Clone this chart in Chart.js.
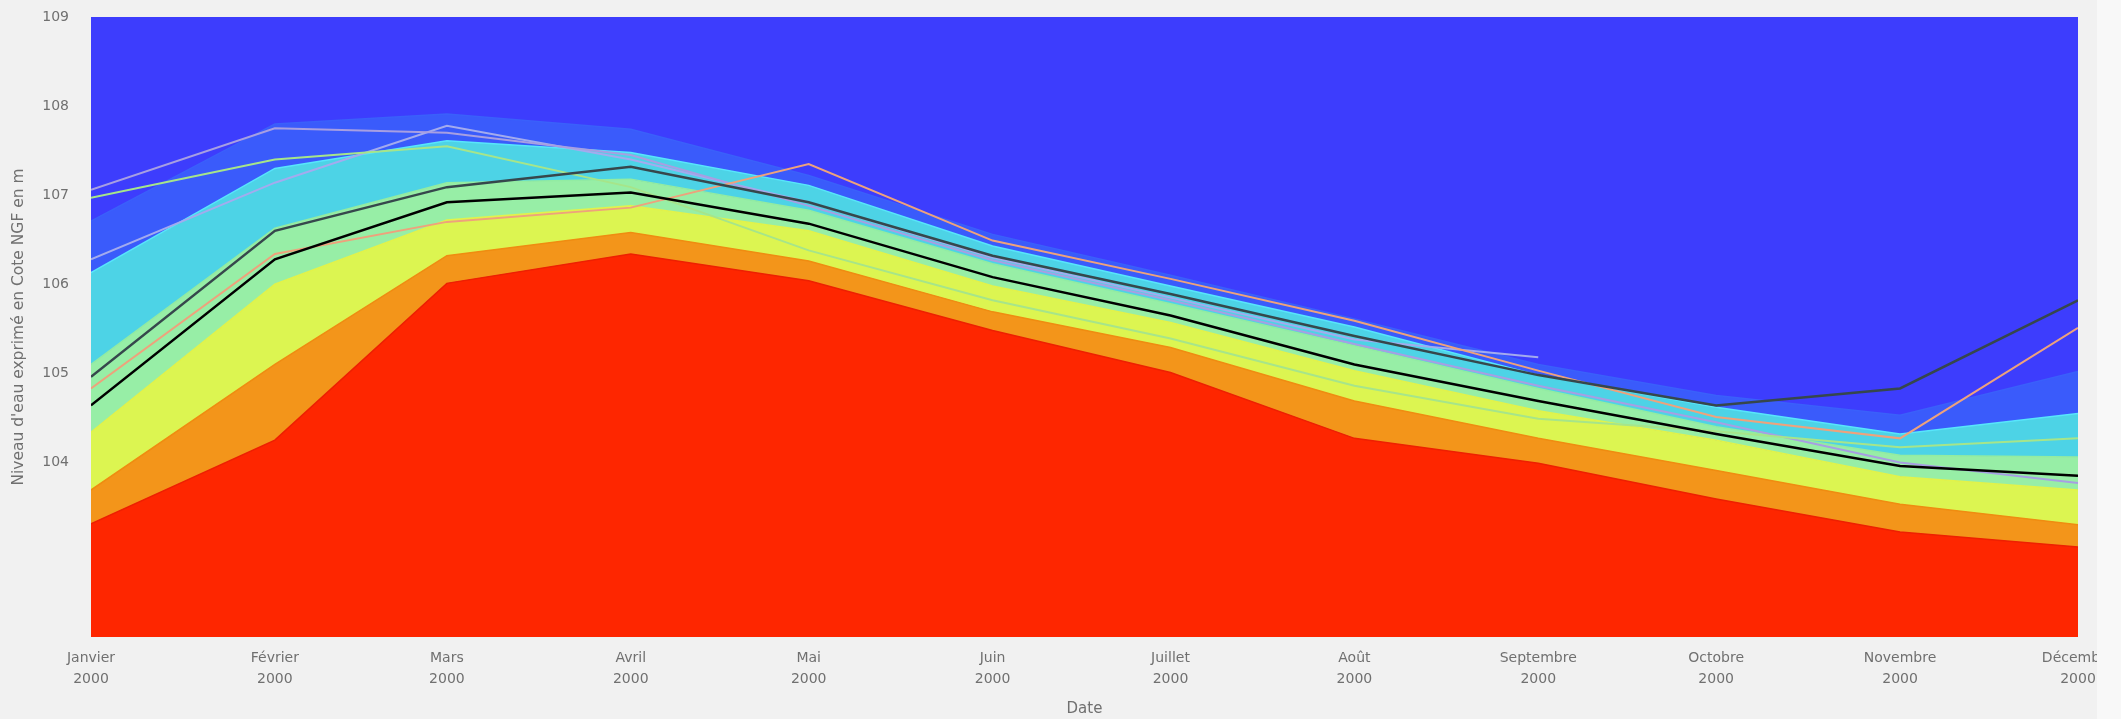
<!DOCTYPE html>
<html>
<head>
<meta charset="utf-8">
<script src="https://cdn.jsdelivr.net/npm/chart.js@4.4.1/dist/chart.umd.min.js"></script>
<style>
  html, body { margin: 0; padding: 0; background: #f8f8f8; }
  #wrap { width: 2097px; height: 719px; overflow: hidden; background: #f1f1f1; }
  canvas { display: block; }
</style>
</head>
<body>
<div id="wrap"><canvas id="c" width="2121" height="719"></canvas></div>
<script>
// ---- data ----
const monthNames = ['Janvier','Février','Mars','Avril','Mai','Juin','Juillet','Août','Septembre','Octobre','Novembre','Décembre'];
const yearLabel = '2000';
const monthDays = [0, 31, 60, 91, 121, 152, 182, 213, 244, 274, 305, 335];
const yTicks = [104, 105, 106, 107, 108, 109];

// envelope bands (upper limit of each band)
const bandRed       = [103.31, 104.25, 106.01, 106.34, 106.04, 105.48, 105.01, 104.27, 103.99, 103.59, 103.22, 103.05];
const bandOrange    = [103.69, 105.10, 106.32, 106.58, 106.26, 105.69, 105.29, 104.69, 104.27, 103.91, 103.53, 103.30];
const bandYellow    = [104.34, 106.00, 106.72, 106.88, 106.60, 105.98, 105.57, 105.03, 104.58, 104.25, 103.84, 103.69];
const bandGreen     = [105.10, 106.63, 107.14, 107.18, 106.83, 106.23, 105.78, 105.31, 104.83, 104.40, 104.08, 104.06];
const bandCyan      = [106.13, 107.30, 107.61, 107.48, 107.11, 106.43, 105.98, 105.52, 104.98, 104.62, 104.32, 104.55];
const bandLightBlue = [106.71, 107.80, 107.91, 107.74, 107.22, 106.56, 106.10, 105.61, 105.10, 104.75, 104.53, 105.02];

// individual curves
const lineBlack    = [104.64, 106.28, 106.92, 107.03, 106.68, 106.08, 105.65, 105.10, 104.69, 104.32, 103.96, 103.85];
const lineDark     = [104.96, 106.60, 107.09, 107.32, 106.92, 106.32, 105.89, 105.42, 104.98, 104.64, 104.83, 105.82];
const lineOrange   = [104.83, 106.34, 106.70, 106.86, 107.35, 106.49, 106.06, 105.59, 105.03, 104.51, 104.27, 105.51];
const lineGreen    = [106.97, 107.40, 107.55, 107.09, 106.38, 105.82, 105.39, 104.86, 104.49, 104.35, 104.17, 104.27];
const lineLavender1= [107.06, 107.75, 107.70, 107.45, 106.88, 106.27, 105.82, 105.33, 104.86, 104.45, 104.00, 103.77];
const lineLavender2= [106.28, 107.14, 107.78, 107.40, 106.92, 106.30, 105.85, 105.38, 105.18, null, null, null];

const Y_MIN = 102.04, Y_MAX = 109;

function pts(arr) {
  const out = [];
  arr.forEach((v, i) => { if (v !== null) out.push({x: monthDays[i], y: v}); });
  return out;
}

const lines = [
  {d: lineBlack,     c: '#000000', w: 2.5},
  {d: lineDark,      c: '#36474c', w: 2.5},
  {d: lineOrange,    c: '#eea27c', w: 2},
  {d: lineGreen,     c: '#a6e58a', w: 2},
  {d: lineLavender1, c: '#a79fe2', w: 2},
  {d: lineLavender2, c: '#a3abee', w: 2}
];
const bands = [
  {d: bandRed,       fill: '#fe2600', c: '#ee2000'},
  {d: bandOrange,    fill: '#f3951a', c: '#f08c10'},
  {d: bandYellow,    fill: '#dcf551', c: '#e2f34a'},
  {d: bandGreen,     fill: '#97eea6', c: '#92eca2'},
  {d: bandCyan,      fill: '#4dd3e6', c: '#58e6fb'},
  {d: bandLightBlue, fill: '#3a5bfb', c: '#3a60fb'}
];

const datasets = [];
lines.forEach(l => datasets.push({
  data: pts(l.d), borderColor: l.c, borderWidth: l.w, pointRadius: 0, fill: false, tension: 0
}));
const base = datasets.length;
bands.forEach((b, i) => datasets.push({
  data: pts(b.d), borderColor: b.c, borderWidth: 1.5, backgroundColor: b.fill,
  pointRadius: 0, tension: 0, fill: i === 0 ? 'start' : base + i - 1
}));

const bgPlugin = {
  id: 'plotBg',
  beforeDatasetsDraw(chart) {
    const {ctx, chartArea: a} = chart;
    ctx.save();
    ctx.fillStyle = '#3d3dfd';
    ctx.fillRect(a.left, a.top, a.right - a.left, a.bottom - a.top);
    ctx.restore();
  }
};

Chart.defaults.font.family = "'DejaVu Sans', sans-serif";
Chart.defaults.font.size = 14;
Chart.defaults.color = '#707070';

new Chart(document.getElementById('c'), {
  type: 'line',
  data: { datasets },
  plugins: [bgPlugin],
  options: {
    responsive: false,
    animation: false,
    events: [],
    layout: { padding: { left: 0, top: 17, right: 43, bottom: 0 } },
    plugins: { legend: { display: false }, tooltip: { enabled: false } },
    scales: {
      x: {
        type: 'linear', min: 0, max: 335,
        grid: { display: false, drawTicks: false },
        border: { display: false },
        afterBuildTicks: s => { s.ticks = monthDays.map(v => ({value: v})); },
        afterFit: s => { s.height = 82; s.paddingLeft = 0; s.paddingRight = 0; },
        ticks: {
          autoSkip: false, maxRotation: 0, padding: 11,
          font: { size: 14, lineHeight: 1.5 },
          callback: v => { const i = monthDays.indexOf(v); return i < 0 ? '' : [monthNames[i], yearLabel]; }
        },
        title: { display: true, text: 'Date', font: { size: 15 }, padding: { top: 0, bottom: 1 } }
      },
      y: {
        type: 'linear', min: Y_MIN, max: Y_MAX,
        grid: { display: false, drawTicks: false },
        border: { display: false },
        afterBuildTicks: s => { s.ticks = yTicks.map(v => ({value: v})); },
        afterFit: s => { s.width = 91; s.paddingTop = 0; s.paddingBottom = 0; },
        ticks: { padding: 22, font: { size: 14 }, callback: v => String(v) },
        title: { display: true, text: "Niveau d'eau exprimé en Cote NGF en m", font: { size: 15.5 }, padding: { top: 10, bottom: 0 } }
      }
    }
  }
});
</script>
</body>
</html>
